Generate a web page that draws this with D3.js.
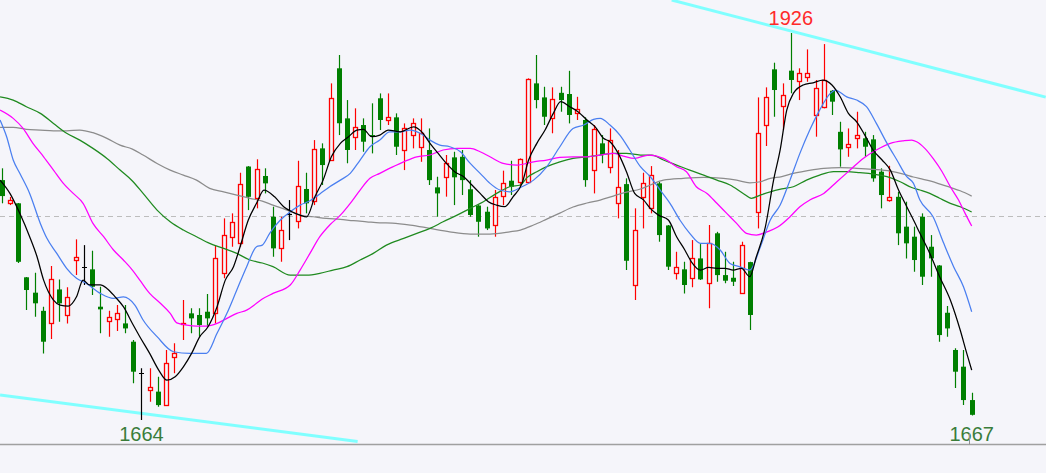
<!DOCTYPE html>
<html><head><meta charset="utf-8">
<script src="https://cdn.jsdelivr.net/npm/d3@7"></script>
<style>html,body{margin:0;padding:0;background:#f5f5fa;overflow:hidden}svg{display:block}</style>
</head><body><svg id="chart" width="1046" height="473"></svg>
<script>
// ---- data ----
const opens = [1826.4,1810.9,1810.7,1760.6,1750.2,1737.9,1729.8,1752.4,1735.1,1772.3,1767.8,1766.0,1740.7,1731.0,1732.3,1729.4,1717.0,1696.0,1684.3,1683.2,1674.1,1706.8,1729.0,1736.2,1735.1,1737.3,1736.2,1763.3,1788.1,1783.6,1835.6,1814.1,1829.2,1801.6,1780.2,1803.4,1798.9,1820.4,1812.4,1847.9,1840.0,1902.1,1868.2,1855.8,1863.7,1856.9,1881.8,1867.1,1868.9,1846.8,1856.9,1849.0,1846.8,1821.5,1828.3,1841.8,1842.2,1820.2,1809.2,1805.0,1796.0,1815.6,1826.0,1825.3,1825.3,1891.9,1882.4,1868.2,1885.5,1884.7,1871.6,1867.1,1833.2,1851.3,1835.5,1811.1,1823.7,1755.4,1815.1,1807.3,1824.2,1795.7,1763.3,1766.0,1759.9,1773.4,1756.5,1790.4,1762.1,1760.3,1749.7,1770.9,1805.0,1863.7,1901.4,1876.4,1900.5,1893.5,1896.4,1870.5,1876.1,1886.9,1859.1,1849.0,1854.7,1854.7,1854.0,1832.1,1812.9,1815.1,1794.9,1788.1,1801.6,1781.3,1768.6,1736.6,1711.4,1700.1,1677.5];
const highs = [1834.4,1815.0,1810.9,1760.8,1763.7,1740.7,1768.2,1759.2,1753.8,1786.3,1782.4,1778.6,1754.2,1737.9,1741.8,1741.8,1718.1,1699.0,1699.0,1693.3,1711.4,1715.9,1745.2,1739.6,1739.6,1749.3,1782.4,1800.5,1803.9,1831.4,1835.9,1840.5,1834.4,1808.4,1801.6,1812.9,1839.5,1831.4,1853.5,1851.3,1891.9,1911.1,1880.6,1875.0,1868.2,1878.4,1885.1,1885.1,1871.6,1864.8,1868.2,1868.2,1861.4,1828.7,1843.4,1845.6,1846.8,1826.4,1809.5,1808.4,1819.7,1832.8,1839.5,1841.1,1895.3,1911.1,1889.6,1889.2,1889.6,1900.4,1882.8,1868.9,1863.7,1856.9,1861.4,1846.8,1827.6,1807.3,1831.4,1835.9,1825.3,1796.0,1777.9,1771.1,1785.8,1783.1,1796.0,1791.4,1777.9,1771.1,1784.7,1771.1,1882.4,1889.2,1905.9,1891.9,1926.0,1902.1,1914.9,1894.2,1918.5,1887.4,1865.9,1861.4,1872.7,1859.1,1856.9,1834.4,1836.1,1818.5,1811.8,1794.9,1803.9,1789.2,1768.9,1741.1,1712.5,1711.4,1682.5];
const lows = [1810.7,1809.5,1770.3,1738.4,1733.9,1709.1,1718.8,1730.5,1729.4,1762.1,1755.4,1748.6,1722.7,1720.4,1724.2,1722.7,1688.8,1664.0,1676.4,1673.0,1673.8,1695.6,1718.1,1722.7,1720.4,1727.1,1729.4,1759.9,1781.3,1781.3,1806.1,1807.3,1817.4,1774.5,1771.1,1785.8,1793.7,1803.9,1809.5,1823.1,1839.7,1856.9,1837.8,1846.8,1845.6,1844.5,1860.3,1863.7,1843.4,1833.2,1847.9,1838.8,1823.1,1801.6,1815.2,1809.5,1816.3,1801.6,1788.1,1792.6,1788.1,1809.5,1816.3,1821.9,1825.1,1875.0,1863.7,1858.1,1872.7,1864.8,1867.1,1821.9,1817.4,1837.8,1831.0,1800.5,1765.5,1745.2,1793.7,1803.9,1784.7,1765.5,1759.2,1749.7,1753.8,1758.7,1739.6,1757.6,1756.5,1754.7,1749.6,1724.9,1793.7,1849.5,1869.3,1860.3,1885.2,1880.6,1893.0,1855.8,1875.0,1870.5,1835.5,1842.2,1847.9,1842.2,1825.3,1807.3,1811.8,1782.4,1773.4,1764.4,1755.4,1761.0,1717.0,1720.4,1685.6,1674.1,1667.0];
const closes = [1815.6,1812.9,1771.1,1752.0,1743.0,1717.0,1759.2,1743.0,1747.4,1774.5,1767.8,1754.2,1738.9,1733.9,1736.2,1726.0,1696.7,1696.0,1686.5,1674.1,1702.3,1709.1,1729.8,1732.8,1728.3,1732.8,1773.4,1789.2,1798.2,1823.7,1815.1,1833.7,1824.2,1780.2,1792.6,1803.4,1822.6,1810.7,1847.2,1836.6,1881.8,1864.9,1846.8,1862.5,1852.4,1855.8,1867.1,1869.3,1849.0,1861.4,1864.8,1858.1,1826.4,1817.4,1838.2,1828.3,1826.4,1802.8,1798.2,1793.7,1815.1,1824.6,1821.9,1840.5,1894.6,1880.6,1869.3,1881.1,1880.6,1870.5,1874.3,1826.4,1860.8,1843.4,1853.5,1821.5,1771.8,1792.6,1824.6,1829.8,1789.2,1767.8,1767.8,1755.4,1773.4,1759.2,1783.6,1762.1,1758.3,1757.6,1782.4,1735.1,1858.1,1882.4,1887.4,1883.7,1894.2,1899.1,1899.1,1888.5,1894.2,1879.5,1847.2,1850.6,1856.9,1849.0,1827.6,1816.3,1814.7,1790.4,1783.6,1772.3,1761.0,1773.4,1721.5,1726.0,1696.7,1677.5,1667.5];

// moving averages: [bar position, value]
const ma5 = [[-0.2,1826.4],[1.0,1817.4],[2.2,1803.9],[3.4,1788.1],[4.3,1774.5],[5.1,1758.7],[6.3,1745.2],[7.1,1741.8],[8.1,1741.1],[9.1,1747.4],[9.9,1758.7],[10.7,1755.4],[12.0,1755.4],[12.8,1753.1],[13.8,1747.4],[14.8,1740.7],[16.0,1728.3],[16.8,1720.4],[18.0,1709.1],[19.1,1697.8],[20.1,1691.0],[21.1,1693.3],[22.1,1700.0],[23.1,1709.1],[24.1,1720.4],[25.1,1727.1],[26.2,1740.7],[27.2,1758.7],[28.2,1767.8],[29.0,1781.3],[30.0,1799.4],[31.0,1810.7],[31.9,1819.7],[33.2,1815.1],[34.3,1808.4],[35.3,1805.0],[36.3,1802.7],[37.1,1801.6],[38.1,1815.1],[39.1,1826.4],[40.1,1842.2],[41.2,1851.3],[42.2,1855.8],[43.2,1860.3],[44.0,1860.8],[45.0,1855.8],[46.0,1856.9],[47.0,1860.3],[48.5,1859.1],[50.1,1862.5],[51.1,1859.1],[52.1,1851.3],[53.1,1844.5],[54.1,1837.7],[55.1,1832.1],[56.2,1828.7],[57.2,1823.1],[58.2,1817.4],[59.2,1811.8],[60.2,1809.5],[61.2,1808.4],[62.2,1815.1],[63.3,1824.2],[64.1,1840.0],[65.1,1851.3],[66.1,1860.3],[67.1,1871.6],[68.0,1879.5],[69.1,1876.1],[70.1,1872.7],[71.2,1867.1],[72.2,1862.5],[73.2,1854.7],[74.0,1852.4],[75.0,1844.5],[76.0,1832.1],[77.0,1817.4],[78.1,1812.9],[78.9,1807.3],[79.9,1802.7],[81.1,1799.4],[82.1,1788.1],[83.1,1779.1],[83.9,1771.1],[85.0,1765.5],[86.0,1767.3],[87.0,1766.7],[88.0,1766.7],[89.0,1765.5],[90.0,1766.7],[91.0,1761.0],[91.8,1774.5],[92.9,1794.8],[93.9,1826.4],[94.7,1846.8],[95.5,1873.8],[96.3,1885.1],[97.5,1890.8],[98.7,1892.3],[99.9,1894.1],[101.0,1890.8],[102.0,1882.8],[103.0,1871.6],[104.0,1865.9],[105.0,1856.9],[106.0,1846.8],[107.1,1840.0],[108.1,1833.2],[109.1,1819.7],[110.1,1808.4],[110.8,1800.7],[111.7,1790.4],[112.9,1776.8],[114.1,1761.0],[115.4,1745.2],[116.6,1724.9],[117.4,1709.1],[118.0,1697.8]];
const ma10 = [[-0.2,1867.1],[0.6,1855.8],[1.4,1840.0],[2.2,1831.0],[3.4,1817.4],[4.7,1797.1],[5.5,1787.0],[6.7,1776.8],[7.9,1766.7],[9.1,1759.9],[10.3,1756.5],[12.0,1749.7],[13.6,1746.3],[14.8,1747.4],[16.2,1741.8],[17.2,1731.7],[18.9,1720.4],[20.9,1710.2],[22.9,1709.1],[24.9,1709.1],[26.2,1722.7],[27.4,1736.2],[28.6,1752.0],[29.8,1767.8],[31.0,1781.3],[31.7,1782.4],[32.6,1790.4],[33.9,1799.4],[35.1,1805.0],[36.3,1809.5],[37.5,1812.4],[38.7,1817.0],[39.9,1821.9],[41.2,1826.4],[42.4,1831.0],[43.6,1840.0],[44.8,1849.0],[46.0,1853.5],[47.2,1859.1],[48.5,1859.1],[49.7,1860.3],[50.9,1858.1],[52.1,1853.5],[53.3,1850.1],[54.5,1849.0],[55.8,1845.6],[57.0,1837.7],[58.2,1831.0],[59.4,1824.2],[60.6,1819.7],[61.8,1818.5],[63.1,1821.4],[64.7,1826.4],[66.3,1835.4],[67.9,1849.0],[69.5,1861.4],[70.8,1863.7],[72.0,1867.5],[72.8,1868.2],[74.0,1863.7],[75.2,1856.9],[76.4,1846.8],[77.7,1835.5],[78.9,1828.7],[80.1,1819.7],[81.3,1810.7],[82.5,1799.4],[83.7,1790.4],[85.0,1783.6],[86.2,1783.6],[87.4,1779.1],[88.6,1770.0],[89.8,1767.7],[91.0,1765.5],[92.3,1781.3],[93.5,1799.4],[94.7,1809.5],[95.9,1826.4],[97.1,1844.5],[98.3,1860.3],[99.5,1873.8],[100.8,1885.1],[101.4,1887.4],[102.8,1882.8],[104.0,1880.6],[105.2,1876.1],[106.4,1864.8],[107.7,1851.3],[108.9,1840.0],[110.1,1828.7],[110.9,1824.4],[111.7,1812.9],[113.3,1801.6],[114.6,1783.6],[115.8,1767.8],[117.0,1754.2],[118.0,1737.3]];
const ma20 = [[-0.2,1873.8],[1.4,1868.2],[2.6,1861.4],[3.8,1851.3],[5.1,1842.2],[6.3,1833.2],[7.5,1824.2],[8.7,1817.4],[9.9,1810.7],[11.1,1797.1],[12.4,1788.1],[13.6,1779.1],[14.8,1772.3],[15.9,1765.5],[16.8,1758.7],[18.0,1749.7],[19.3,1743.0],[20.5,1736.2],[21.3,1729.8],[22.5,1728.3],[23.7,1727.6],[24.9,1727.6],[26.2,1729.4],[27.4,1732.8],[28.6,1736.2],[29.8,1738.4],[31.0,1743.0],[31.7,1745.9],[33.0,1749.7],[35.1,1755.4],[36.3,1765.5],[37.5,1776.8],[38.7,1788.1],[39.9,1796.0],[41.2,1802.7],[42.4,1810.7],[43.6,1819.7],[44.8,1827.6],[46.0,1831.0],[47.5,1835.2],[48.9,1838.8],[50.5,1842.2],[52.1,1843.4],[53.7,1846.8],[55.4,1847.9],[57.0,1847.9],[58.2,1845.6],[59.4,1842.2],[61.0,1837.7],[62.7,1836.6],[64.7,1838.8],[66.3,1840.0],[67.9,1841.8],[69.5,1842.2],[71.2,1842.2],[72.8,1843.4],[74.4,1844.5],[75.6,1842.7],[77.0,1841.1],[78.7,1843.4],[80.5,1841.1],[82.1,1835.5],[83.3,1832.1],[84.5,1821.9],[85.8,1817.4],[87.0,1810.7],[88.2,1803.9],[89.4,1797.1],[90.6,1790.4],[91.8,1789.2],[93.1,1791.4],[94.4,1794.6],[95.9,1801.6],[97.1,1808.4],[98.3,1812.9],[100.0,1817.4],[101.6,1825.3],[103.2,1833.2],[104.8,1841.1],[106.4,1846.8],[108.1,1851.3],[109.7,1853.0],[110.7,1853.5],[111.3,1852.4],[112.3,1847.9],[113.3,1841.1],[114.4,1832.1],[115.4,1821.9],[116.4,1812.9],[117.2,1803.9],[118.0,1795.3]];
const ma60 = [[-0.2,1882.8],[1.4,1880.6],[3.0,1876.1],[4.7,1871.6],[6.3,1864.8],[7.9,1858.1],[9.5,1853.5],[11.1,1847.9],[12.8,1841.1],[14.4,1833.2],[15.9,1825.8],[17.2,1817.4],[18.9,1806.1],[20.5,1798.2],[22.1,1792.6],[23.7,1788.1],[25.3,1783.6],[27.0,1780.2],[28.6,1776.8],[30.2,1772.3],[31.7,1770.3],[33.0,1767.8],[35.1,1762.1],[37.1,1762.1],[38.7,1763.3],[40.3,1765.5],[42.0,1767.8],[43.6,1772.3],[45.2,1776.8],[46.8,1782.4],[48.9,1787.0],[50.5,1790.4],[52.1,1793.7],[53.7,1798.2],[55.4,1802.7],[57.0,1807.3],[58.6,1811.8],[60.2,1817.4],[61.8,1821.9],[63.1,1823.1],[63.9,1828.1],[65.1,1832.1],[66.3,1835.5],[67.9,1838.8],[69.5,1841.1],[71.2,1842.2],[72.8,1843.4],[74.4,1844.5],[76.0,1844.5],[77.7,1843.4],[79.1,1843.4],[80.5,1840.0],[82.1,1836.6],[83.7,1833.2],[85.4,1829.8],[87.0,1826.4],[88.6,1823.1],[90.2,1817.4],[91.2,1814.1],[92.3,1816.3],[93.5,1818.5],[94.9,1820.4],[96.3,1821.9],[97.9,1826.4],[99.5,1829.8],[101.2,1832.1],[102.8,1832.1],[104.4,1831.4],[106.0,1830.5],[107.7,1828.7],[109.3,1825.3],[110.7,1821.4],[111.7,1819.7],[112.9,1817.4],[114.1,1814.1],[115.4,1810.7],[116.6,1808.4],[118.0,1804.8]];
const ma120 = [[-0.2,1862.1],[1.4,1862.1],[3.0,1860.8],[4.7,1860.3],[6.3,1859.8],[7.9,1859.8],[9.5,1860.3],[11.1,1858.5],[12.8,1854.7],[14.4,1850.1],[15.9,1847.4],[17.2,1843.4],[18.9,1837.7],[20.5,1833.2],[22.1,1829.8],[23.7,1826.4],[25.3,1820.8],[27.0,1818.5],[28.6,1816.3],[30.2,1814.1],[31.7,1812.2],[33.0,1809.5],[34.7,1806.1],[36.3,1802.7],[37.9,1801.6],[39.5,1800.5],[41.2,1799.8],[42.8,1798.9],[44.4,1798.2],[46.0,1797.5],[47.5,1797.3],[49.7,1796.0],[52.1,1793.7],[54.5,1791.4],[57.0,1789.9],[59.4,1789.9],[61.8,1791.4],[63.1,1792.6],[64.7,1796.0],[66.3,1800.0],[67.9,1804.1],[69.5,1808.2],[71.2,1810.9],[72.8,1812.9],[74.4,1815.6],[76.0,1818.3],[77.7,1820.4],[78.9,1823.1],[80.5,1826.4],[82.9,1827.6],[85.4,1828.3],[87.8,1827.6],[89.4,1826.4],[91.0,1824.6],[92.3,1825.3],[93.5,1827.6],[94.9,1828.8],[96.3,1831.0],[97.9,1832.7],[100.0,1834.4],[102.0,1834.8],[104.0,1834.4],[106.0,1833.7],[108.1,1832.5],[109.7,1830.5],[110.9,1828.5],[112.1,1826.9],[113.7,1824.6],[115.4,1821.5],[116.6,1819.2],[118.0,1815.6]];

// trend lines [bar position, value]
const upperTrend = [[81.5,1948.3],[127.0,1882.6]];
const lowerTrend = [[-0.2,1680.9],[43.3,1649.4]];
const refLevel = 1802;
const markers = [{i:96, v:1926, text:"1926", pos:"top"},{i:17, v:1664, text:"1664", pos:"bottom"},{i:118, v:1667, text:"1667", pos:"bottom"}];

// ---- drawing ----
const W = 1046, H = 473, axisY = 444.5;
const svg = d3.select("#chart");
const bg = "#f5f5fa";
svg.append("rect").attr("width", W).attr("height", H).attr("fill", bg);

const x = d3.scaleLinear().domain([0, opens.length - 1]).range([1.7, 971.7]);
const y = d3.scaleLinear().domain([1664, 1926]).range([420, 33]);

svg.append("defs").append("clipPath").attr("id", "plot")
  .append("rect").attr("x", 0).attr("y", 0).attr("width", W).attr("height", axisY);
const g = svg.append("g").attr("clip-path", "url(#plot)");

// reference dashed line
g.append("line").attr("x1", 0).attr("x2", W)
  .attr("y1", Math.round(y(refLevel)) + 0.5).attr("y2", Math.round(y(refLevel)) + 0.5)
  .attr("stroke", "#bdbdbd").attr("stroke-width", 1).attr("stroke-dasharray", "5,4");

// trend lines
const straight = d3.line().x(d => x(d[0])).y(d => y(d[1]));
[upperTrend, lowerTrend].forEach(t => {
  g.append("path").attr("d", straight(t)).attr("fill", "none")
    .attr("stroke", "#80ffff").attr("stroke-width", 3);
});

// candles
const up = "#ff0000", down = "#007f00";
const cg = g.append("g");
opens.forEach((o, i) => {
  const c = closes[i], h = highs[i], l = lows[i];
  const cx = Math.round(x(i)) + 0.5;
  if (Math.abs(c - o) < 0.05) {
    cg.append("line").attr("x1", cx).attr("x2", cx).attr("y1", y(h)).attr("y2", y(l)).attr("stroke", "#000").attr("stroke-width", 1.2);
    const yy = Math.round(y(o)) + 0.5;
    cg.append("line").attr("x1", cx - 2.5).attr("x2", cx + 2.5).attr("y1", yy).attr("y2", yy).attr("stroke", "#000").attr("stroke-width", 1.2);
  } else if (c > o) {
    const yt = Math.round(y(c)) + 0.5, yb = Math.round(y(o)) + 0.5;
    cg.append("line").attr("x1", cx).attr("x2", cx).attr("y1", y(h)).attr("y2", yt).attr("stroke", up).attr("stroke-width", 1.2);
    cg.append("line").attr("x1", cx).attr("x2", cx).attr("y1", yb).attr("y2", y(l)).attr("stroke", up).attr("stroke-width", 1.2);
    cg.append("rect").attr("x", cx - 2).attr("y", yt).attr("width", 4).attr("height", Math.max(1, yb - yt))
      .attr("fill", bg).attr("stroke", up).attr("stroke-width", 1.3);
  } else {
    cg.append("line").attr("x1", cx).attr("x2", cx).attr("y1", y(h)).attr("y2", y(l)).attr("stroke", down).attr("stroke-width", 1.2);
    const yt = y(o), yb = y(c);
    cg.append("rect").attr("x", cx - 2.5).attr("y", yt).attr("width", 5).attr("height", Math.max(1.5, yb - yt))
      .attr("fill", down);
  }
});

// moving averages
const curve = d3.line().x(d => x(d[0])).y(d => y(d[1])).curve(d3.curveMonotoneX);
const maSet = [[ma120, "#8c8c8c"], [ma60, "#1f8a1f"], [ma20, "#ff00ff"], [ma10, "#4a7ff0"], [ma5, "#000000"]];
maSet.forEach(([d, col]) => {
  g.append("path").attr("d", curve(d)).attr("fill", "none").attr("stroke", col).attr("stroke-width", 1.25);
});

// bottom axis line
svg.append("line").attr("x1", 0).attr("x2", W).attr("y1", axisY).attr("y2", axisY)
  .attr("stroke", "#a0a0a0").attr("stroke-width", 1.5);

// extreme labels
markers.forEach(m => {
  const t = svg.append("text").attr("x", x(m.i)).attr("text-anchor", "middle")
    .attr("font-family", "'Liberation Sans', Arial, sans-serif").attr("font-size", 20)
    .attr("fill", m.pos === "top" ? "#ff2a2a" : "#3a7d3a").text(m.text);
  if (m.pos === "top") t.attr("y", y(m.v) - 8);
  else t.attr("y", 441);
});
// small tick under the last-bar label
const lastX = Math.round(x(opens.length - 1)) - 3 + 0.5;
svg.append("line").attr("x1", lastX).attr("x2", lastX).attr("y1", 433).attr("y2", axisY)
  .attr("stroke", "#909090").attr("stroke-width", 1);
</script></body></html>
